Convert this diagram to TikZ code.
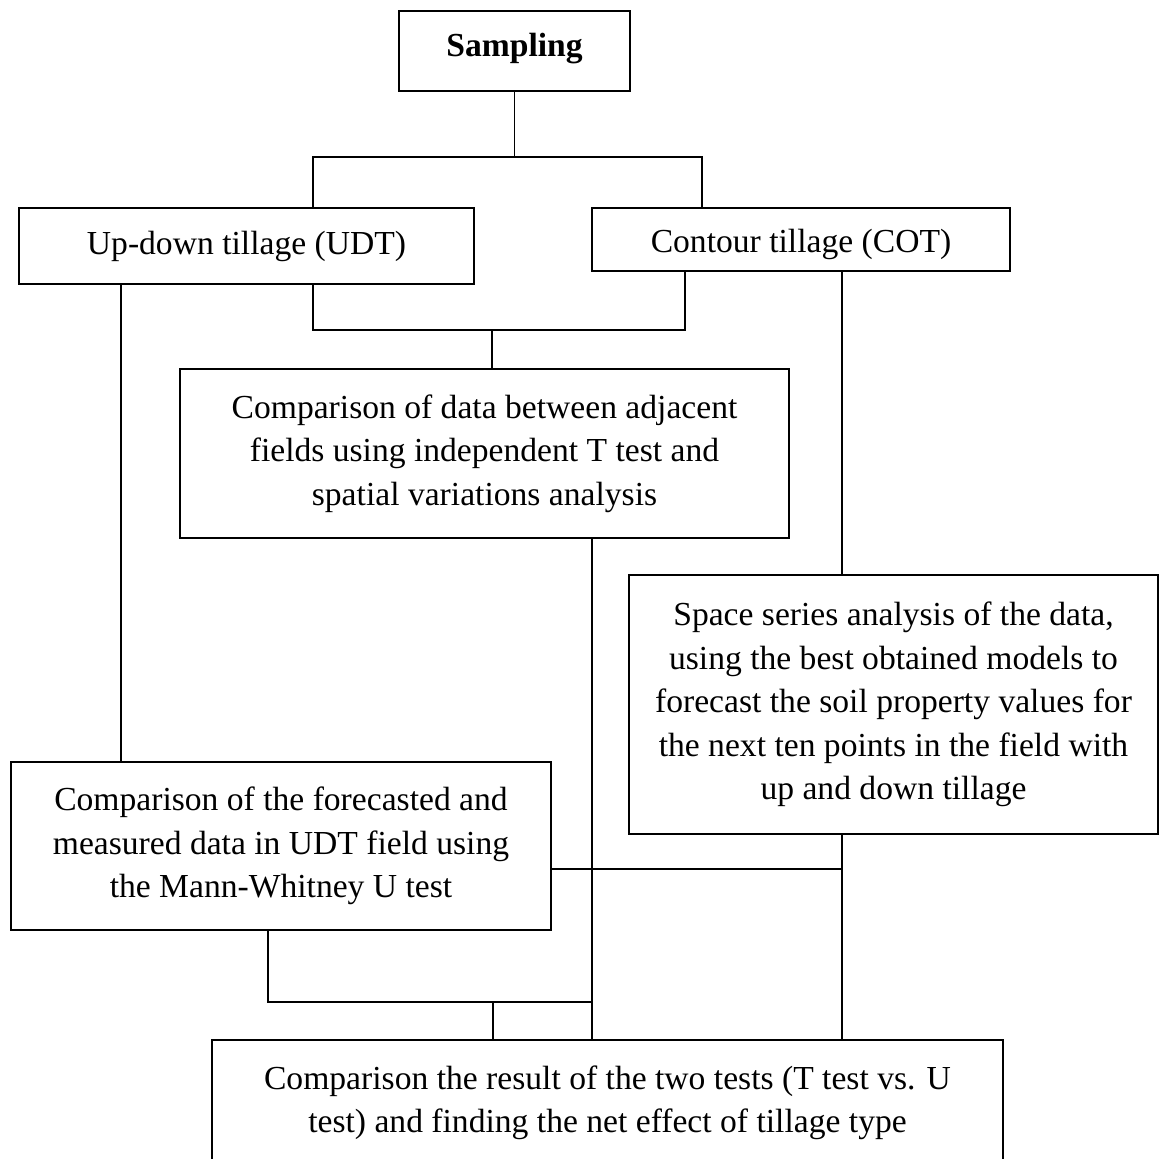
\documentclass[tikz,border=0pt]{standalone}
\usepackage{fontspec}
\setmainfont{Liberation Serif}
\tikzset{
  box/.style={draw, line width=1pt, rectangle, anchor=north west, align=center, inner sep=0pt,
    font=\fontsize{16.8}{21.7}\selectfont},
  conn/.style={line width=0.8pt}
}
\begin{document}
\begin{tikzpicture}[x=0.5pt,y=-0.5pt]
\useasboundingbox (0,0) rectangle (1160,1158);
\node[box, minimum width=115.5pt, minimum height=40pt, font=\fontsize{16.8}{21.7}\selectfont\bfseries] (samp) at (398,10) {\raisebox{1pt}[\height][\depth]{Sampling}};
\node[box, minimum width=227.5pt, minimum height=38pt] (udt) at (18,207) {Up-down tillage (UDT)};
\node[box, minimum width=209pt, minimum height=31.5pt] (cot) at (591,207) {\raisebox{-2.5pt}[\height][\depth]{Contour tillage (COT)}};
\node[box, minimum width=304.5pt, minimum height=84.5pt] (adj) at (179,368) {Comparison of data between adjacent\\fields using independent T test and\\spatial variations analysis};
\node[box, minimum width=264.5pt, minimum height=129.5pt] (space) at (628,574) {Space series analysis of the data,\\using the best obtained models to\\forecast the soil property values for\\the next ten points in the field with\\up and down tillage};
\node[box, minimum width=270pt, minimum height=84pt] (mw) at (10,761) {Comparison of the forecasted and\\measured data in UDT field using\\the Mann-Whitney U test};
\node[box, minimum width=395.5pt, minimum height=63pt] (res) at (211,1039) {Comparison the result of the two tests (T test vs. U\\test) and finding the net effect of tillage type};

\coordinate (bL) at (313,157);
\coordinate (bR) at (702,157);
\coordinate (cL) at (313,330);
\coordinate (cR) at (685,330);
\coordinate (cM) at (492,330);
\coordinate (xL) at (121,0);
\coordinate (xR) at (842,0);
\coordinate (xM) at (592,0);
\coordinate (h1) at (842,869);
\coordinate (d1) at (268,1002);
\coordinate (d2) at (493,1002);

\draw[conn] (samp.south) -- (samp.south |- bL);
\draw[conn] (udt.north -| bL) |- (bR) -- (cot.north -| bR);
\draw[conn] (udt.south -| cL) -- (cL) -- (cR) -- (cot.south -| cR);
\draw[conn] (adj.north -| cM) -- (cM);
\draw[conn] (udt.south -| xL) -- (mw.north -| xL);
\draw[conn] (cot.south -| xR) -- (space.north -| xR);
\draw[conn] (adj.south -| xM) -- (res.north -| xM);
\draw[conn] (space.south -| xR) -- (res.north -| xR);
\draw[conn] (mw.east |- h1) -- (h1);
\draw[conn] (mw.south -| d1) |- (xM |- d1);
\draw[conn] (d2) -- (res.north -| d2);
\end{tikzpicture}
\end{document}
